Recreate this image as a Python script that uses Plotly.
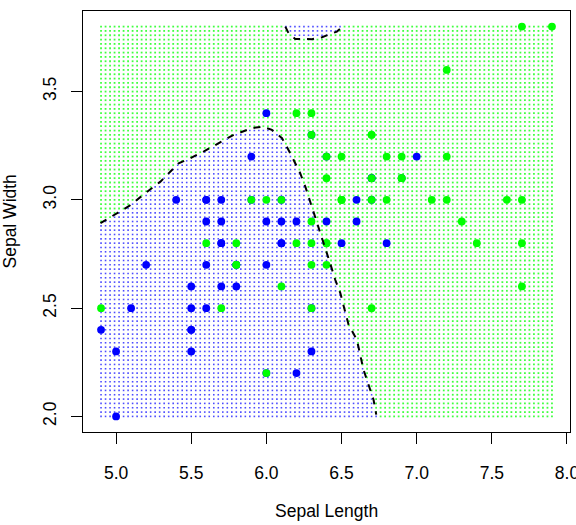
import numpy as np
import plotly.graph_objects as go

# ---------------- data ----------------
versicolor_sl = [7.0, 6.4, 6.9, 5.5, 6.5, 5.7, 6.3, 4.9, 6.6, 5.2, 5.0, 5.9, 6.0, 6.1, 5.6, 6.7, 5.6, 5.8, 6.2, 5.6,
                 5.9, 6.1, 6.3, 6.1, 6.4, 6.6, 6.8, 6.7, 6.0, 5.7, 5.5, 5.5, 5.8, 6.0, 5.4, 6.0, 6.7, 6.3, 5.6, 5.5,
                 5.5, 6.1, 5.8, 5.0, 5.6, 5.7, 5.7, 6.2, 5.1, 5.7]
versicolor_sw = [3.2, 3.2, 3.1, 2.3, 2.8, 2.8, 3.3, 2.4, 2.9, 2.7, 2.0, 3.0, 2.2, 2.9, 2.9, 3.1, 3.0, 2.7, 2.2, 2.5,
                 3.2, 2.8, 2.5, 2.8, 2.9, 3.0, 2.8, 3.0, 2.9, 2.6, 2.4, 2.4, 2.7, 2.7, 3.0, 3.4, 3.1, 2.3, 3.0, 2.5,
                 2.6, 3.0, 2.6, 2.3, 2.7, 3.0, 2.9, 2.9, 2.5, 2.8]
virginica_sl = [6.3, 5.8, 7.1, 6.3, 6.5, 7.6, 4.9, 7.3, 6.7, 7.2, 6.5, 6.4, 6.8, 5.7, 5.8, 6.4, 6.5, 7.7, 7.7, 6.0,
                6.9, 5.6, 7.7, 6.3, 6.7, 7.2, 6.2, 6.1, 6.4, 7.2, 7.4, 7.9, 6.4, 6.3, 6.1, 7.7, 6.3, 6.4, 6.0, 6.9,
                6.7, 6.9, 5.8, 6.8, 6.7, 6.7, 6.3, 6.5, 6.2, 5.9]
virginica_sw = [3.3, 2.7, 3.0, 2.9, 3.0, 3.0, 2.5, 2.9, 2.5, 3.6, 3.2, 2.7, 3.0, 2.5, 2.8, 3.2, 3.0, 3.8, 2.6, 2.2,
                3.2, 2.8, 2.8, 2.7, 3.3, 3.2, 2.8, 3.0, 2.8, 3.0, 2.8, 3.8, 2.8, 2.8, 2.6, 3.0, 3.4, 3.1, 3.0, 3.1,
                3.1, 3.1, 2.7, 3.2, 3.3, 3.0, 2.5, 3.0, 3.4, 3.0]

# decision boundary (0.5 contour)
boundary_main_x = [4.896, 5.007, 5.090, 5.195, 5.295, 5.416, 5.494, 5.582, 5.682, 5.782, 5.904, 5.971,
                   6.037, 6.104, 6.159, 6.225, 6.259, 6.292, 6.325, 6.358, 6.392, 6.425, 6.458, 6.492,
                   6.547, 6.602, 6.646, 6.680, 6.713, 6.731]
boundary_main_y = [2.892, 2.938, 2.973, 3.031, 3.084, 3.169, 3.192, 3.223, 3.262, 3.300, 3.331, 3.338,
                   3.323, 3.285, 3.215, 3.123, 3.061, 2.992, 2.923, 2.850, 2.774, 2.705, 2.631, 2.569,
                   2.423, 2.354, 2.216, 2.146, 2.077, 2.008]
boundary_top_x = [6.126, 6.148, 6.192, 6.259, 6.303, 6.370, 6.414, 6.469, 6.503]
boundary_top_y = [3.800, 3.769, 3.743, 3.742, 3.742, 3.751, 3.761, 3.777, 3.797]

x_ticks = [5.0, 5.5, 6.0, 6.5, 7.0, 7.5, 8.0]
x_tick_labels = ["5.0", "5.5", "6.0", "6.5", "7.0", "7.5", "8.0"]
y_ticks = [2.0, 2.5, 3.0, 3.5]
y_tick_labels = ["2.0", "2.5", "3.0", "3.5"]

# ---------------- grid of predictions ----------------
GX0, GX1, GSX = 4.9, 7.9, 0.03
GY0, GY1, GSY = 2.0, 3.8, 0.02
gx = np.round(np.arange(GX0, GX1 + GSX / 2, GSX), 4)
gy = np.round(np.arange(GY0, GY1 + GSY / 2, GSY), 4)
GXX, GYY = np.meshgrid(gx, gy)
px = GXX.ravel()
py = GYY.ravel()


def inside(px, py, vx, vy):
    vx = np.asarray(vx, float)
    vy = np.asarray(vy, float)
    res = np.zeros(px.shape, bool)
    n = len(vx)
    j = n - 1
    with np.errstate(divide="ignore", invalid="ignore"):
        for i in range(n):
            c1 = (vy[i] > py) != (vy[j] > py)
            xint = (vx[j] - vx[i]) * (py - vy[i]) / (vy[j] - vy[i]) + vx[i]
            res ^= c1 & (px < xint)
            j = i
    return res


main_poly_x = [4.80] + boundary_main_x + [6.76, 4.80]
main_poly_y = [boundary_main_y[0]] + boundary_main_y + [1.90, 1.90]
top_poly_x = [6.115] + boundary_top_x + [6.515]
top_poly_y = [3.90] + boundary_top_y + [3.90]

is_blue = inside(px, py, main_poly_x, main_poly_y) | inside(px, py, top_poly_x, top_poly_y)

fig = go.Figure()
fig.add_trace(go.Scatter(x=px[~is_blue], y=py[~is_blue], mode="markers",
                         marker=dict(symbol="square", size=1.8, color="#00FF00", opacity=0.75,
                                     line=dict(width=0)),
                         hoverinfo="skip", showlegend=False))
fig.add_trace(go.Scatter(x=px[is_blue], y=py[is_blue], mode="markers",
                         marker=dict(symbol="square", size=1.6, color="#0000FF", opacity=0.7,
                                     line=dict(width=0)),
                         hoverinfo="skip", showlegend=False))
fig.add_trace(go.Scatter(x=versicolor_sl, y=versicolor_sw, mode="markers",
                         marker=dict(size=7.8, color="#0000FF", line=dict(width=0)), showlegend=False))
fig.add_trace(go.Scatter(x=virginica_sl, y=virginica_sw, mode="markers",
                         marker=dict(size=7.8, color="#00FF00", line=dict(width=0)), showlegend=False))
fig.add_trace(go.Scatter(x=boundary_main_x, y=boundary_main_y, mode="lines",
                         line=dict(color="black", width=2, dash="7px,7px"), showlegend=False))
fig.add_trace(go.Scatter(x=boundary_top_x, y=boundary_top_y, mode="lines",
                         line=dict(color="black", width=2, dash="7px,7px"), showlegend=False))

axis_common = dict(showgrid=False, zeroline=False, showline=True, mirror=True, linecolor="black",
                   linewidth=1, ticks="outside", ticklen=11, tickcolor="black", tickwidth=1,
                   ticklabeloverflow="allow", automargin=False)
fig.update_xaxes(range=[4.78, 8.02], tickvals=x_ticks, ticktext=x_tick_labels, ticklabelstandoff=14,
                 **axis_common)
fig.update_yaxes(range=[1.928, 3.872], tickvals=y_ticks, ticktext=y_tick_labels, tickangle=-90,
                 ticklabelstandoff=8, **axis_common)

fig.add_annotation(text="Sepal Length", xref="paper", yref="paper", x=0.5, y=0, xanchor="center",
                   yanchor="middle", yshift=-79, showarrow=False, font=dict(size=17.5, color="black"))
fig.add_annotation(text="Sepal Width", xref="paper", yref="paper", x=0, y=0.5, xanchor="center",
                   yanchor="middle", xshift=-74, textangle=-90, showarrow=False,
                   font=dict(size=17.5, color="black"))

fig.update_layout(width=576, height=525, margin=dict(l=83, r=6, t=11, b=93, autoexpand=False),
                  plot_bgcolor="white", paper_bgcolor="white",
                  font=dict(family="Liberation Sans, Arial, sans-serif", size=17.5, color="black"))

fig.write_html("out.html")
